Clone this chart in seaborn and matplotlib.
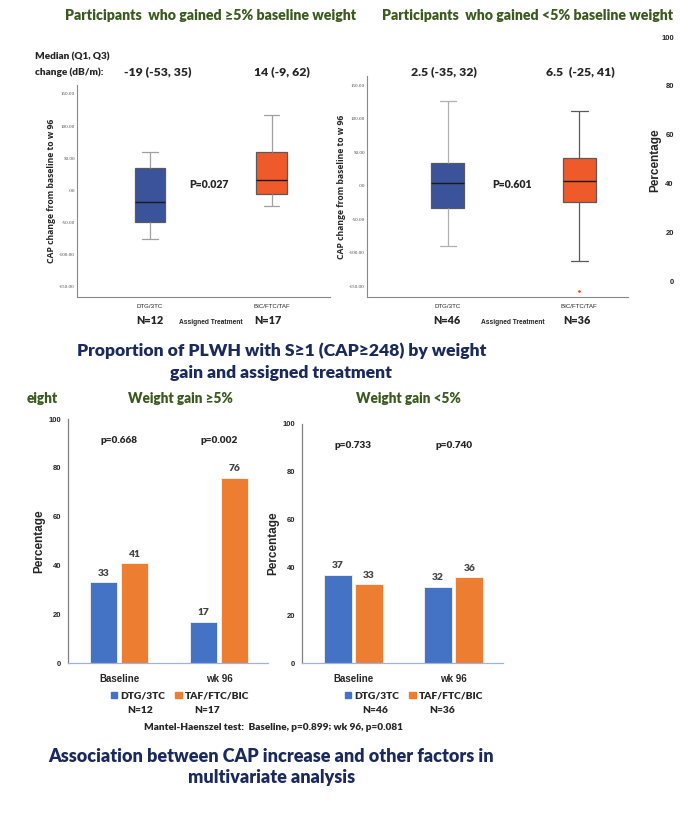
import numpy as np
import pandas as pd
import matplotlib.pyplot as plt
import seaborn as sns
from matplotlib.patches import Patch
from matplotlib.ticker import FuncFormatter

# ---- data ----
treatments_box = ['DTG/3TC', 'BIC/FTC/TAF']
# five-number summaries: low whisker, Q1, median, Q3, high whisker
box_hi_dtg = [-76, -49, -18, 35, 59]
box_hi_bic = [-25, -6, 16, 60, 117]
box_lo_dtg = [-90, -33, 4, 34, 127]
box_lo_bic = [-112, -24, 7, 42, 111]
outlier_lo_bic = [-157]
median_text_hi = ['-19 (-53, 35)', '14 (-9, 62)']
median_text_lo = ['2.5 (-35, 32)', '6.5  (-25, 41)']
n_hi = ['N=12', 'N=17']
n_lo = ['N=46', 'N=36']
p_box = ['P=0.027', 'P=0.601']

timepoints = ['Baseline', 'wk 96']
treatments_bar = ['DTG/3TC', 'TAF/FTC/BIC']
pct_hi_dtg = [33, 17]
pct_hi_taf = [41, 76]
pct_lo_dtg = [37, 32]
pct_lo_taf = [33, 36]
p_hi = ['p=0.668', 'p=0.002']
p_lo = ['p=0.733', 'p=0.740']
side_ticks = [0, 20, 40, 60, 80, 100]

W, H = 698, 813
GREEN = '#3b5a1f'
NAVY = '#1b2a5c'
BOX_BLUE = '#3a539b'
BOX_ORANGE = '#ef5a2a'
BAR_BLUE = '#4472c4'
BAR_ORANGE = '#ed7d31'
BW = 'heavy'

sns.set_theme(style='white')
plt.rcParams['font.family'] = ['Lato', 'DejaVu Sans']
ARIAL = ['Liberation Sans', 'DejaVu Sans']
NARROW = ['Liberation Sans Narrow', 'Liberation Sans', 'DejaVu Sans']
SERIF = ['Liberation Serif', 'DejaVu Serif']

fig = plt.figure(figsize=(W / 100, H / 100), dpi=100)
fig.patch.set_facecolor('white')


def px_axes(left, top, right, bottom):
    return fig.add_axes([left / W, 1 - bottom / H, (right - left) / W, (bottom - top) / H])


def ftext(x, y, s, **kw):
    kw.setdefault('ha', 'center')
    kw.setdefault('va', 'center')
    kw.setdefault('fontweight', BW)
    fig.text(x / W, 1 - y / H, s, **kw)


# ---- titles for box plots ----
ftext(211, 16, 'Participants  who gained \u22655% baseline weight', fontsize=10.2, color=GREEN)
ftext(528, 16, 'Participants  who gained <5% baseline weight', fontsize=10.2, color=GREEN)


def spss_fmt(v, pos):
    s = f'{v:.2f}'
    if s in ('0.00', '-0.00'):
        return '.00'
    return s


def box_panel(ax, dtg, bic, xlim, whisker_colors):
    df = pd.DataFrame({'treatment': [treatments_box[0]] * len(dtg) + [treatments_box[1]] * len(bic),
                       'cap': dtg + bic})
    sns.boxplot(data=df, x='treatment', y='cap', hue='treatment',
                palette=[BOX_BLUE, BOX_ORANGE], saturation=1, whis=(0, 100), width=0.25,
                linecolor='#5a5a5a', linewidth=0.9, legend=False, ax=ax,
                medianprops={'color': '#1a1a1a', 'linewidth': 1.0})
    # whiskers and caps: 4 lines per box, before the median line
    lines = [ln for ln in ax.lines if len(ln.get_xdata()) == 2]
    for i, ln in enumerate(lines):
        box_i = 0 if ln.get_xdata()[0] < 0.5 else 1
        if ln.get_ydata()[0] != ln.get_ydata()[1] or abs(ln.get_xdata()[1] - ln.get_xdata()[0]) < 0.2:
            ln.set_color(whisker_colors[box_i])
    ax.set_ylim(-166, 164)
    ax.set_xlim(*xlim)
    ax.set_yticks([-150, -100, -50, 0, 50, 100, 150])
    ax.yaxis.set_major_formatter(FuncFormatter(spss_fmt))
    ax.tick_params(axis='y', labelsize=3.6, length=0, colors='#444444', pad=1.5)
    ax.tick_params(axis='x', labelsize=4.4, length=0, pad=5, colors='#222222')
    for lab in ax.get_yticklabels():
        lab.set_family(SERIF)
    for lab in ax.get_xticklabels():
        lab.set_family(NARROW)
    ax.set_xlabel('')
    ax.set_ylabel('CAP change from baseline to w 96', fontsize=6.2, fontweight='bold',
                  labelpad=2, family=['Open Sans', 'DejaVu Sans'])
    for s in ['top', 'right']:
        ax.spines[s].set_visible(False)
    for s in ['left', 'bottom']:
        ax.spines[s].set_color('#888888')
        ax.spines[s].set_linewidth(0.8)
    ax.patch.set_alpha(0)


ax1 = px_axes(77, 85, 330, 297)
box_panel(ax1, box_hi_dtg, box_hi_bic, (-0.6, 1.48), ['#a0a0a0', '#a0a0a0'])
ax2 = px_axes(367, 76, 628, 297)
box_panel(ax2, box_lo_dtg, box_lo_bic, (-0.615, 1.37), ['#b0b0b0', '#5a5a5a'])
ax2.plot([1] * len(outlier_lo_bic), outlier_lo_bic, 'o', ms=1.0, color=BOX_ORANGE)

# annotations around box plots
ftext(35, 57, 'Median (Q1, Q3)', ha='left', fontsize=7.2)
ftext(35, 72, 'change (dB/m):', ha='left', fontsize=7.2)
ftext(158, 72, median_text_hi[0], fontsize=8.8)
ftext(282, 72, median_text_hi[1], fontsize=8.8)
ftext(444, 72, median_text_lo[0], fontsize=8.8)
ftext(580, 72, median_text_lo[1], fontsize=8.8)
ftext(209, 185, p_box[0], fontsize=7.6)
ftext(512, 185, p_box[1], fontsize=7.6)
ftext(150, 320, n_hi[0], fontsize=7.8)
ftext(268, 320, n_hi[1], fontsize=7.8)
ftext(447, 320, n_lo[0], fontsize=7.8)
ftext(577, 320, n_lo[1], fontsize=7.8)
ftext(211, 322, 'Assigned Treatment', fontsize=4.8, fontweight='bold', family=NARROW)
ftext(513, 322, 'Assigned Treatment', fontsize=4.8, fontweight='bold', family=NARROW)

# stray percentage axis at the right edge
ax5 = px_axes(678, 37, 690, 281)
ax5.set_ylim(0, 100)
ax5.set_yticks(side_ticks)
ax5.set_xticks([])
ax5.tick_params(axis='y', length=0, labelsize=5.5, pad=3)
for lab in ax5.get_yticklabels():
    lab.set_family(ARIAL)
    lab.set_fontweight('bold')
for s in ax5.spines.values():
    s.set_visible(False)
ax5.patch.set_alpha(0)
ftext(655, 160, 'Percentage', rotation=90, fontsize=8.5, fontweight='bold', family=ARIAL)

# ---- middle title ----
ftext(282, 351, 'Proportion of PLWH with S\u22651 (CAP\u2265248) by weight', fontsize=12.6,
      color=NAVY)
ftext(281, 373, 'gain and assigned treatment', fontsize=12.6, color=NAVY)
ftext(42, 398, 'eight', fontsize=9.8, color=GREEN)
ftext(180, 398, 'Weight gain \u22655%', fontsize=9.8, color=GREEN)
ftext(408, 398, 'Weight gain <5%', fontsize=9.8, color=GREEN)


def bar_panel(ax, dtg, taf, pvals):
    df = pd.DataFrame({'timepoint': timepoints * 2,
                       'treatment': [treatments_bar[0]] * 2 + [treatments_bar[1]] * 2,
                       'pct': dtg + taf})
    sns.barplot(data=df, x='timepoint', y='pct', hue='treatment',
                palette=[BAR_BLUE, BAR_ORANGE], saturation=1, width=0.62, gap=0.1,
                edgecolor='#f4f4f4', linewidth=0.6, legend=False, ax=ax)
    for cont in ax.containers:
        ax.bar_label(cont, fmt='%d', padding=3, fontsize=7.4, fontweight=BW,
                     color='#444444')
    for i, p in enumerate(pvals):
        ax.text(i, 91, p, ha='center', va='center', fontsize=7.2, fontweight=BW)
    ax.set_ylim(0, 100)
    ax.set_xlim(-0.51, 1.49)
    ax.set_yticks(side_ticks)
    ax.tick_params(axis='y', length=0, labelsize=5.5, pad=5)
    ax.tick_params(axis='x', length=0, labelsize=7, pad=8)
    for lab in ax.get_yticklabels() + ax.get_xticklabels():
        lab.set_family(ARIAL)
        lab.set_fontweight('bold')
    ax.set_xlabel('')
    ax.set_ylabel('Percentage', fontsize=8.5, fontweight='bold', family=ARIAL, labelpad=2)
    for s in ['top', 'right']:
        ax.spines[s].set_visible(False)
    ax.spines['left'].set_color('#7f7f7f')
    ax.spines['left'].set_linewidth(0.9)
    ax.spines['bottom'].set_color('#9fb3d6')
    ax.spines['bottom'].set_linewidth(0.9)
    ax.patch.set_alpha(0)


ax3 = px_axes(68, 419, 268, 663)
bar_panel(ax3, pct_hi_dtg, pct_hi_taf, p_hi)
ax4 = px_axes(302, 424, 503, 663)
bar_panel(ax4, pct_lo_dtg, pct_lo_taf, p_lo)

handles = [Patch(color=BAR_BLUE), Patch(color=BAR_ORANGE)]
for cx, ns, nx in [(180, n_hi, (140, 207)), (414, n_lo, (375, 442))]:
    fig.legend(handles, treatments_bar, loc='center', bbox_to_anchor=(cx / W, 1 - 696 / H),
               ncol=2, frameon=False, handlelength=0.6, handleheight=0.6, handletextpad=0.3,
               columnspacing=1.0, prop={'size': 7.4, 'weight': BW})
    ftext(nx[0], 710, ns[0], fontsize=7.4)
    ftext(nx[1], 710, ns[1], fontsize=7.4)

ftext(273, 727, 'Mantel-Haenszel test:  Baseline, p=0.899; wk 96, p=0.081', fontsize=7.2)

ftext(271, 756, 'Association between CAP increase and other factors in', fontsize=13.0,
      color=NAVY)
ftext(272, 777, 'multivariate analysis', fontsize=13.0, color=NAVY)

fig.savefig('out.png', dpi=100, facecolor='white')
